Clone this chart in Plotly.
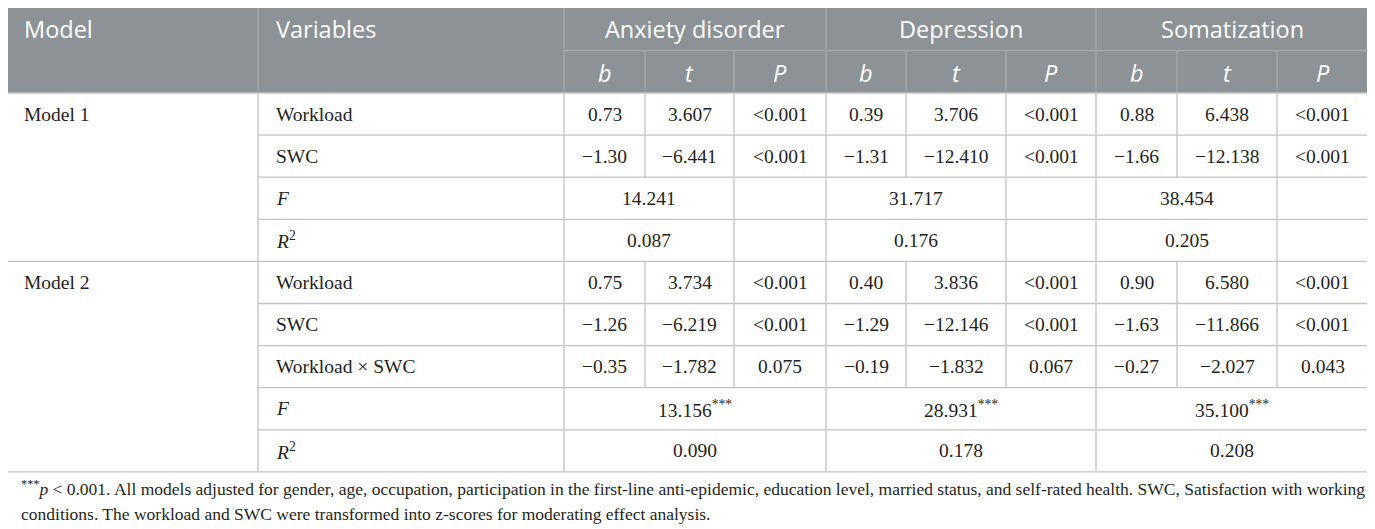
import plotly.graph_objects as go

# ---------------- data ----------------
outcomes = ["Anxiety disorder", "Depression", "Somatization"]
stat_labels = ["b", "t", "P"]
models = ["Model 1", "Model 2"]

m1_vars = ["Workload", "SWC"]
m1_b = [[0.73, 0.39, 0.88], [-1.30, -1.31, -1.66]]
m1_t = [[3.607, 3.706, 6.438], [-6.441, -12.410, -12.138]]
m1_p = [["<0.001", "<0.001", "<0.001"], ["<0.001", "<0.001", "<0.001"]]
m1_F = [14.241, 31.717, 38.454]
m1_R2 = [0.087, 0.176, 0.205]

m2_vars = ["Workload", "SWC", "Workload × SWC"]
m2_b = [[0.75, 0.40, 0.90], [-1.26, -1.29, -1.63], [-0.35, -0.19, -0.27]]
m2_t = [[3.734, 3.836, 6.580], [-6.219, -12.146, -11.866], [-1.782, -1.832, -2.027]]
m2_p = [["<0.001", "<0.001", "<0.001"], ["<0.001", "<0.001", "<0.001"], ["0.075", "0.067", "0.043"]]
m2_F = [13.156, 28.931, 35.100]
m2_F_mark = "***"
m2_R2 = [0.090, 0.178, 0.208]

footnote_lines = [
    "<sup>***</sup><i>p</i> < 0.001. All models adjusted for gender, age, occupation, participation in the first-line anti-epidemic, education level, married status, and self-rated health. SWC, Satisfaction with working",
    "conditions. The workload and SWC were transformed into z-scores for moderating effect analysis.",
]

# ---------------- layout constants ----------------
W, H = 1375, 529
PAGE_OFF = 8  # browser body margin
X = [4, 258, 564, 645, 734, 826, 906, 1006, 1096, 1177, 1277, 1368]
Y0, Y1, Y2 = 5, 50.5, 93
ROW_H = 42.1
HEAD_BG = "#8c9295"
HEAD_LINE = "#a5a9ac"
BODY_LINE = "#c3c3c3"
SANS = "Open Sans"
SERIF = "Liberation Serif"
BODY_SIZE = 19.5
HEAD_SIZE = 23.5
FOOT_SIZE = 17.5
TXT = "#231f20"


def fmt(v, d):
    s = f"{abs(v):.{d}f}"
    return ("−" + s) if v < 0 else s


shapes = []
annos = []


def hline(x0, x1, y, color):
    shapes.append(dict(type="line", xref="x", yref="y", x0=x0, x1=x1, y0=y, y1=y,
                       line=dict(color=color, width=1.3)))


def vline(x, y0, y1, color):
    shapes.append(dict(type="line", xref="x", yref="y", x0=x, x1=x, y0=y0, y1=y1,
                       line=dict(color=color, width=1.3)))


def text(x, y, s, align="center", font=SERIF, size=BODY_SIZE, color=TXT):
    annos.append(dict(x=x, y=y, xref="x", yref="y", text=s, showarrow=False,
                      xanchor=align, yanchor="middle",
                      font=dict(family=font, size=size, color=color)))


# ---------------- header ----------------
shapes.append(dict(type="rect", xref="x", yref="y", x0=X[0], x1=X[-1], y0=Y0, y1=Y2,
                   fillcolor=HEAD_BG, line=dict(width=0), layer="below"))
for xi in [X[1], X[2], X[5], X[8]]:
    vline(xi, Y0, Y2, HEAD_LINE)
for g in range(3):
    for k in (1, 2):
        vline(X[2 + 3 * g + k], Y1, Y2, HEAD_LINE)
hline(X[2], X[-1], Y1, HEAD_LINE)

text(X[0] + 18, (Y0 + Y1) / 2 + 1, "Model", "left", SANS, HEAD_SIZE, "white")
text(X[1] + 16, (Y0 + Y1) / 2 + 1, "Variables", "left", SANS, HEAD_SIZE, "white")
for g, name in enumerate(outcomes):
    text((X[2 + 3 * g] + X[5 + 3 * g]) / 2, (Y0 + Y1) / 2 + 1, name, "center", SANS, HEAD_SIZE, "white")
    for k, st in enumerate(stat_labels):
        text((X[2 + 3 * g + k] + X[3 + 3 * g + k]) / 2, (Y1 + Y2) / 2 + 1,
             f"<i>{st}</i>", "center", SANS, HEAD_SIZE, "white")

# ---------------- body ----------------
rows = []
for i, v in enumerate(m1_vars):
    rows.append((v, [[fmt(m1_b[i][g], 2), fmt(m1_t[i][g], 3), m1_p[i][g]] for g in range(3)], "data"))
rows.append(("<i>F</i>", [fmt(m1_F[g], 3) for g in range(3)], "m1stat"))
rows.append(("<i>R</i><sup>2</sup>", [fmt(m1_R2[g], 3) for g in range(3)], "m1stat"))
for i, v in enumerate(m2_vars):
    rows.append((v, [[fmt(m2_b[i][g], 2), fmt(m2_t[i][g], 3), m2_p[i][g]] for g in range(3)], "data"))
rows.append(("<i>F</i>", [fmt(m2_F[g], 3) + f"<sup>{m2_F_mark}</sup>" for g in range(3)], "m2stat"))
rows.append(("<i>R</i><sup>2</sup>", [fmt(m2_R2[g], 3) for g in range(3)], "m2stat"))

block_sizes = [len(m1_vars) + 2, len(m2_vars) + 2]
y = Y2
r = 0
for bi, bs in enumerate(block_sizes):
    yb0 = y
    hline(X[0], X[-1], yb0, BODY_LINE)
    text(X[0] + 18, yb0 + ROW_H / 2, models[bi], "left")
    for j in range(bs):
        label, cells, kind = rows[r]
        ya, yb = y, y + ROW_H
        yc = (ya + yb) / 2
        if j > 0:
            hline(X[1], X[-1], ya, BODY_LINE)
        text(X[1] + 16, yc, label, "left")
        for g in range(3):
            base = 2 + 3 * g
            if kind == "data":
                for k in range(3):
                    text((X[base + k] + X[base + k + 1]) / 2, yc, cells[g][k])
                vline(X[base + 1], ya, yb, BODY_LINE)
                vline(X[base + 2], ya, yb, BODY_LINE)
            elif kind == "m1stat":
                text((X[base] + X[base + 2]) / 2, yc, cells[g])
                vline(X[base + 2], ya, yb, BODY_LINE)
            else:
                text((X[base] + X[base + 3]) / 2, yc, cells[g])
        y = yb
        r += 1
hline(X[0], X[-1], y, BODY_LINE)
for xi in [X[0], X[1], X[2], X[5], X[8], X[-1]]:
    vline(xi, Y2, y, BODY_LINE)

# ---------------- footnote ----------------
text(X[0] + 15, 488, footnote_lines[0], "left", SERIF, FOOT_SIZE)
text(X[0] + 15, 514, footnote_lines[1], "left", SERIF, FOOT_SIZE)

fig = go.Figure()
fig.update_layout(
    width=W - PAGE_OFF, height=H - PAGE_OFF,
    margin=dict(l=0, r=0, t=0, b=0),
    paper_bgcolor="white", plot_bgcolor="white",
    xaxis=dict(range=[PAGE_OFF, W], visible=False, fixedrange=True),
    yaxis=dict(range=[H, PAGE_OFF], visible=False, fixedrange=True),
    shapes=shapes, annotations=annos, showlegend=False,
)
fig.write_html("out.html")
